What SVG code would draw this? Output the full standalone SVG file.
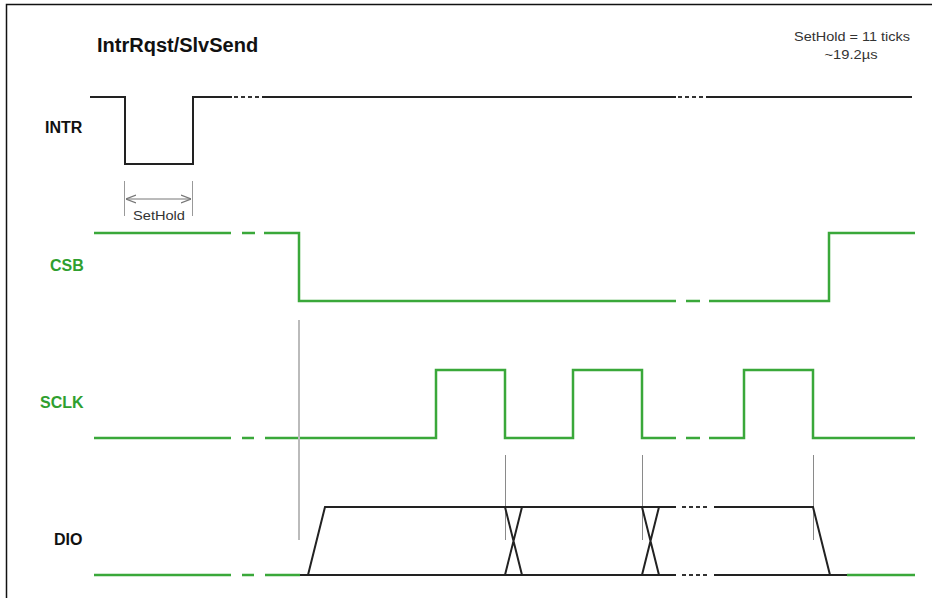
<svg xmlns="http://www.w3.org/2000/svg" width="936" height="598" viewBox="0 0 936 598">
  <defs>
    <style>
      .lbl { font-family: "Liberation Sans", Arial, sans-serif; font-weight: bold; font-size: 16px; }
      .note { font-family: "Liberation Sans", Arial, sans-serif; font-size: 13px; fill: #333; }
      .blk { fill: none; stroke: #222; stroke-width: 2; stroke-linejoin: miter; }
      .grn { fill: none; stroke: #3aa83a; stroke-width: 2.5; stroke-linejoin: miter; }
      .dots { fill: none; stroke: #333; stroke-width: 2; stroke-dasharray: 4 3; }
      .guide { stroke: #bbbbbb; stroke-width: 2; }
      .thin { stroke: #8a8a8a; stroke-width: 1; }
    </style>
    <marker id="openArrow" viewBox="0 0 10 10" refX="10" refY="5" markerWidth="10" markerHeight="10" markerUnits="userSpaceOnUse" orient="auto-start-reverse">
      <path d="M0,1 L10,5 L0,9" fill="none" stroke="#777" stroke-width="1.2"/>
    </marker>
  </defs>
  <rect width="936" height="598" fill="#ffffff"/>
  <!-- frame -->
  <path d="M6.5,598 V4.5 H932" fill="none" stroke="#111" stroke-width="1.5"/>

  <text class="lbl" x="97" y="52" font-size="20" style="font-size:20px" fill="#111">IntrRqst/SlvSend</text>
  <g id="note">
    <text class="note" x="852" y="41" text-anchor="middle" textLength="116" lengthAdjust="spacingAndGlyphs">SetHold = 11 ticks</text>
    <text class="note" x="851" y="59" text-anchor="middle" textLength="53" lengthAdjust="spacingAndGlyphs">~19.2µs</text>
  </g>

  <g id="intr">
    <text class="lbl" x="45" y="133" fill="#111">INTR</text>
    <path class="blk" d="M90,97 H125 V164 H193 V97 H232"/>
    <line class="dots" x1="234" y1="97" x2="260" y2="97"/>
    <line class="blk" x1="262" y1="97" x2="676" y2="97"/>
    <line class="dots" x1="678" y1="97" x2="704" y2="97"/>
    <line class="blk" x1="706" y1="97" x2="912" y2="97"/>
  </g>

  <g id="sethold">
    <line x1="124.5" y1="181" x2="124.5" y2="216" stroke="#999" stroke-width="1"/>
    <line x1="192.5" y1="181" x2="192.5" y2="216" stroke="#999" stroke-width="1"/>
    <line x1="126" y1="199" x2="191" y2="199" stroke="#777" stroke-width="1" marker-start="url(#openArrow)" marker-end="url(#openArrow)"/>
    <text class="note" x="159" y="220" text-anchor="middle" textLength="52" lengthAdjust="spacingAndGlyphs">SetHold</text>
  </g>

  <g id="csb">
    <text class="lbl" x="50" y="271" fill="#2f9f2f">CSB</text>
    <path class="grn" d="M94,233 H231 M242,233 H255 M264,233 H299 V301 H676 M686,301 H700 M709,301 H829 V233 H915"/>
  </g>

  <g id="sclk">
    <text class="lbl" x="40" y="408" fill="#2f9f2f">SCLK</text>
    <path class="grn" d="M94,438 H231 M242,438 H254 M265,438 H436 V370 H505 V438 H573 V370 H642 V438 H676 M686,438 H700 M709,438 H744 V370 H813 V438 H915"/>
  </g>

  <g id="guides">
    <line class="guide" x1="299" y1="320" x2="299" y2="540"/>
    <line class="thin" x1="505.5" y1="455" x2="505.5" y2="540"/>
    <line class="thin" x1="642.5" y1="455" x2="642.5" y2="540"/>
    <line class="thin" x1="813.5" y1="455" x2="813.5" y2="540"/>
  </g>

  <g id="dio">
    <text class="lbl" x="54" y="545" fill="#111">DIO</text>
    <path class="grn" d="M94,575 H231 M242,575 H254 M265,575 H300"/>
    <path class="blk" d="M300,575 H676 M714,575 H847" stroke="#444" stroke-width="2.5"/>
    <line class="dots" x1="682" y1="575" x2="708" y2="575"/>
    <path class="grn" d="M847,575 H915"/>
    <path class="blk" d="M308,575 L325,507 H676 M714,507 H813 L830,575"/>
    <line class="dots" x1="682" y1="507" x2="708" y2="507"/>
    <path class="blk" d="M505,507 L522,575 M505,575 L522,507 M642,507 L659,575 M642,575 L659,507"/>
  </g>
</svg>
